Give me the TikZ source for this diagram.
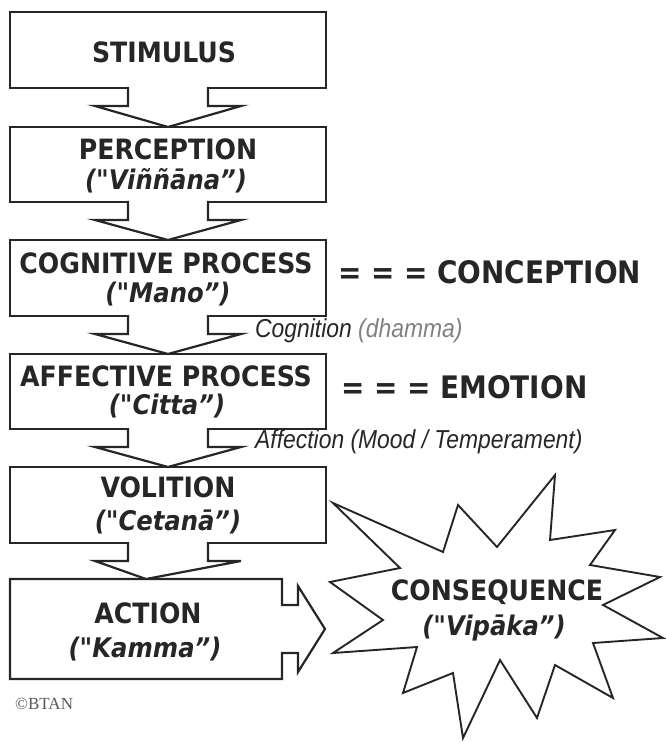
\documentclass[tikz,border=0pt]{standalone}
\usepackage{fontspec}
\usetikzlibrary{calc}
\newfontfamily\headfont{DejaVu Sans Condensed}
\newfontfamily\narrowfont[FakeStretch=0.88]{Liberation Sans}
\newfontfamily\copyfont{Liberation Serif}

% block arrow from the bottom of one box to the top of the next
\newcommand\flowarrow[2]{%
  \filldraw[ink, fill=white]
    ($(#1.south)+(-40,-1)$) -- ($(#1.south)+(-40,18)$) -- ($(#1.south)+(-73,18)$)
    -- (#2.north)
    -- ($(#1.south)+(73,18)$) -- ($(#1.south)+(40,18)$) -- ($(#1.south)+(40,-1)$);
}

\begin{document}
\begin{tikzpicture}[x=1pt, y=-1pt,
  ink/.style={draw=black!85, line width=2.2pt},
  box/.style={ink, fill=white, rectangle, minimum width=316pt, minimum height=75pt,
    inner sep=0pt, outer sep=0pt},
  title/.style={font=\headfont\bfseries\fontsize{28}{28}\selectfont, text=black!85, inner sep=0pt},
  term/.style={font=\headfont\bfseries\itshape\fontsize{27}{27}\selectfont, text=black!85, inner sep=0pt},
  side/.style={font=\headfont\bfseries\fontsize{31}{31}\selectfont, text=black!85, inner sep=0pt},
  note/.style={font=\narrowfont\itshape\fontsize{26}{26}\selectfont, text=black!85, inner sep=0pt},
]
\useasboundingbox (0,0) rectangle (665,743);

% process boxes
\node[box, minimum height=76pt] (stim) at (168,50) {};
\node[box] (perc) at (168,164.5) {};
\node[box, minimum height=76pt] (cogn) at (168,278) {};
\node[box] (affe) at (168,391.5) {};
\node[box, minimum height=76pt] (voli) at (168,505) {};
\node[inner sep=0pt, outer sep=0pt, minimum width=272pt, minimum height=100pt] (act) at (146,629) {};

% action box with its arrow pointing right
\filldraw[ink, fill=white]
  (act.north west) -- (act.north east) -- ($(act.east)+(0,-24)$) -- ($(act.east)+(16,-24)$)
  -- ($(act.east)+(16,-43)$) -- ($(act.east)+(43,0)$) -- ($(act.east)+(16,43)$)
  -- ($(act.east)+(16,24)$) -- ($(act.east)+(0,24)$) -- (act.south east) -- (act.south west) -- cycle;

% arrows between boxes
\flowarrow{stim}{perc}
\flowarrow{perc}{cogn}
\flowarrow{cogn}{affe}
\flowarrow{affe}{voli}
\flowarrow{voli}{act}

% consequence burst
\filldraw[ink, fill=white, line width=1.9pt]
  (333,503) -- (443,552) -- (458,505) -- (497,547) -- (555,475) -- (550,540)
  -- (615,530) -- (590,565) -- (660,577) -- (603,605) -- (663,638) -- (593,643)
  -- (613,698) -- (555,665) -- (537,718) -- (500,660) -- (463,738) -- (453,673)
  -- (403,693) -- (417,647) -- (333,653) -- (383,620) -- (330,582) -- (400,568) -- cycle;
\coordinate (burst) at (495,610);

% box texts
\node[title] (t1) at (164,52) {STIMULUS};
\node[title] (t2) at (168,149) {PERCEPTION};
\node[term]  (q2) at (166,181) {("Viññāna”)};
\node[title] (t3) at (166,263) {COGNITIVE PROCESS};
\node[term]  (q3) at (168,294) {("Mano”)};
\node[title] (t4) at (166,376) {AFFECTIVE PROCESS};
\node[term]  (q4) at (167,406) {("Citta”)};
\node[title] (t5) at (168,487) {VOLITION};
\node[term]  (q5) at (168,522) {("Cetanā”)};
\node[title] (t6) at (148,613) {ACTION};
\node[term]  (q6) at (145,649) {("Kamma”)};
\node[title] (t7) at ($(burst)+(2,-18)$) {CONSEQUENCE};
\node[term]  (q7) at ($(burst)+(-1,18)$) {("Vipāka”)};

% side labels
\node[side, anchor=west] (conc) at (338,272) {= = = CONCEPTION};
\node[side, anchor=west] (emo) at (341,387) {= = = EMOTION};
\node[note, anchor=west] (cog) at (255,331) {Cognition {\color{black!50}(dhamma)}};
\node[note, anchor=west] (aff) at (255,442) {Affection (Mood / Temperament)};

\node[font=\copyfont\fontsize{17}{17}\selectfont, text=black!65, anchor=west, inner sep=0pt]
  (copy) at (15,704) {©BTAN};
\end{tikzpicture}
\end{document}
